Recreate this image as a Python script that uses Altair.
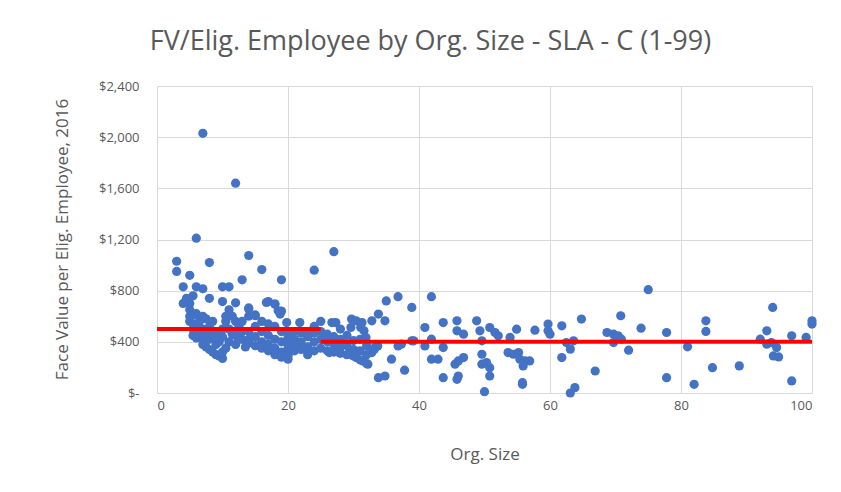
import altair as alt
import pandas as pd

# Org. size (x) and face value per eligible employee (y)
org_size = [
    7, 12, 6, 3, 3, 8, 14, 5, 16, 13, 19, 24, 27, 4, 6, 7, 10, 11, 17, 18, 19, 4, 8, 12, 14, 15, 10, 5.5,
    5, 5, 5.5, 5, 6, 5.5, 6, 4.5, 5, 6, 5.5, 6,
    6.5, 7, 7, 7.5, 8, 8.5, 9, 9.5, 10, 10, 9, 8, 7, 8, 9, 10, 7.5, 8.5, 6.5, 9.5, 10.5, 7, 8, 9, 6.5, 7.5,
    11, 11.5, 12, 12.5, 13, 11, 12, 13, 14, 10.5, 11, 12, 13.5, 10.5, 11.5, 12.5, 13, 14, 10,
    14, 15, 16, 17, 18, 19, 20, 20, 15, 16, 17, 18, 19, 20, 16, 17, 18, 19, 15, 14, 16, 17, 18, 19, 20,
    14, 16.7, 18, 18.5, 18.8, 15, 19.8, 21.8,
    21, 22, 23, 24, 20, 20, 20, 21, 21, 22, 22, 23, 23, 24, 24, 24, 25, 25, 25, 25, 21, 23,
    26, 26, 26, 26.7, 27, 27, 27, 28, 28, 28, 28, 29, 29, 29, 29.7, 30, 30, 30, 30.4, 31, 31, 31, 31.3,
    29.6, 31.1, 31.6, 31.9, 32, 32, 32.2, 32, 30.4, 31.4, 26.3, 27.8, 29.3, 27.3,
    32.8, 33.8, 34.8, 35, 36.8, 38.9, 32.8, 33.3, 35.8, 36.8, 38.9, 33.8, 34.8, 37.8, 33.2, 33.7, 37.3, 39.2,
    41.9, 40.9, 40.9, 41.9, 43.7, 43.7, 41.9, 42.9, 43.7, 45.8, 45.8, 46.8, 48.8, 45.5, 46, 46.8, 45.8, 46,
    50, 49.3, 49.6, 49.6, 49.6,
    50.8, 51.6, 52.1, 50.3, 50.8, 50.8, 53.9, 54.9, 53.6, 54.4, 55.2, 55.4, 56.2, 56.9, 55.9, 55.8, 55.8,
    57.7, 59.7, 59.7, 60,
    61.8, 64.8, 62.5, 63.6, 63.1, 61.8, 66.9, 63.1, 63.8, 68.7, 69.7, 70.4, 70.9, 69.7,
    75, 70.8, 72, 73.9, 77.8, 77.8, 81, 83.8, 83.8, 84.8, 82, 88.9, 94, 93.1, 92.1, 93.1, 93.8, 94.6, 94.1,
    94.9, 96.9, 96.9, 99.1, 100, 100,
]
face_value = [
    2030, 1640, 1210, 1030, 950, 1020, 1075, 920, 965, 885, 885, 960, 1105, 830, 830, 815, 830, 830, 715, 695, 640, 700, 740, 705, 665, 610, 715, 760,
    700, 650, 610, 560, 540, 500, 470, 740, 600, 620, 450, 430,
    450, 420, 380, 360, 340, 320, 300, 290, 270, 320, 380, 420, 500, 520, 480, 440, 580, 560, 560, 400, 350, 600, 470, 430, 500, 470,
    650, 600, 560, 520, 480, 500, 450, 420, 390, 560, 400, 380, 360, 600, 460, 420, 560, 600, 500,
    480, 440, 400, 380, 350, 320, 290, 264, 520, 480, 450, 420, 400, 380, 350, 330, 300, 280, 370, 420, 560, 540, 520, 480, 450,
    656, 708, 695, 643, 617, 604, 551, 551,
    480, 470, 470, 520, 300, 350, 420, 330, 420, 340, 400, 360, 440, 330, 400, 470, 350, 420, 480, 560, 380, 300,
    330, 400, 460, 551, 320, 380, 440, 310, 360, 420, 500, 300, 370, 450, 578, 290, 340, 410, 564, 260, 330, 420, 551,
    512, 512, 486, 434, 230, 300, 225, 370, 277, 251, 316, 316, 303, 551,
    564, 617, 564, 720, 753, 669, 316, 355, 264, 368, 408, 120, 133, 178, 343, 368, 382, 408,
    753, 512, 368, 421, 551, 355, 264, 264, 120, 564, 486, 460, 564, 225, 251, 277, 107, 133,
    10, 486, 408, 303, 225,
    512, 473, 447, 238, 198, 133, 434, 499, 316, 303, 316, 264, 251, 251, 212, 81, 68,
    491, 539, 486, 460,
    525, 578, 394, 408, 343, 277, 172, 0, 42, 473, 460, 447, 421, 394,
    808, 604, 335, 507, 473, 120, 361, 564, 481, 198, 68, 212, 669, 486, 421, 382, 394, 355, 290,
    282, 447, 94, 434, 564, 539,
]

# Red average segments
seg_start = [0, 25]
seg_end = [25, 100]
seg_value = [500, 400]

x_ticks = [0, 20, 40, 60, 80, 100]
y_ticks = [0, 400, 800, 1200, 1600, 2000, 2400]

pts = pd.DataFrame({"size": org_size, "fv": face_value})
segs = pd.DataFrame({"x0": seg_start, "x1": seg_end, "v": seg_value})

FONT = "Open Sans"
GREY = "#595959"

x_scale = alt.Scale(domain=[0, 100], nice=False)
y_scale = alt.Scale(domain=[0, 2400], nice=False)

points = alt.Chart(pts).mark_circle(size=85, color="#4472C4", opacity=1).encode(
    x=alt.X("size:Q", scale=x_scale,
            axis=alt.Axis(values=x_ticks, title="Org. Size", titlePadding=34,
                          domain=True, domainColor="#D9D9D9", ticks=False, labelPadding=6)),
    y=alt.Y("fv:Q", scale=y_scale,
            axis=alt.Axis(values=y_ticks, title="Face Value per Elig. Employee,  2016",
                          domain=False, ticks=False, labelPadding=18,
                          labelExpr="datum.value == 0 ? '$-' : '$' + format(datum.value, ',')",
                          titleX=-95, titleY=153, titleAngle=-90, titleBaseline="middle")),
)

lines = alt.Chart(segs).mark_rule(color="#FF0000", strokeWidth=4).encode(
    x="x0:Q", x2="x1:Q", y="v:Q"
)

chart = (points + lines).properties(
    width=655,
    height=307,
    background="white",
    autosize=alt.AutoSizeParams(type="none"),
    padding={"left": 149, "top": 78, "right": 21, "bottom": 91},
    title=alt.TitleParams("FV/Elig. Employee by Org. Size - SLA - C (1-99)",
                          fontSize=27, font=FONT, fontWeight="normal", color=GREY,
                          anchor="middle", dx=-54, offset=24),
).configure_axis(
    gridColor="#D9D9D9",
    labelColor=GREY,
    labelFont=FONT,
    labelFontSize=13,
    titleColor=GREY,
    titleFont=FONT,
    titleFontSize=17,
    titleFontWeight="normal",
).configure_view(stroke=None)

chart.save("out.html", embed_options={"renderer": "svg", "actions": False})
